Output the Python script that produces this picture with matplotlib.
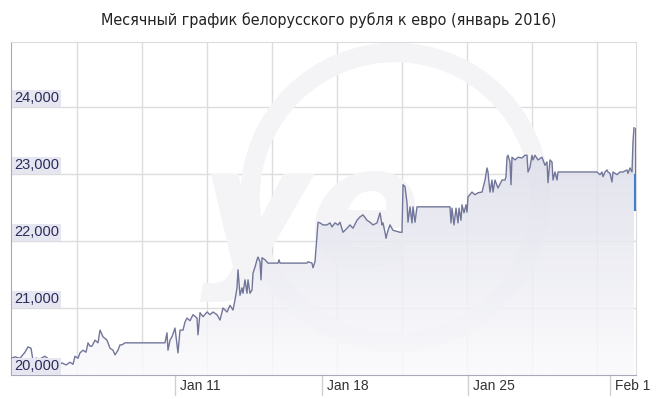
import numpy as np
import matplotlib.pyplot as plt
from matplotlib import font_manager
from matplotlib.colors import LinearSegmentedColormap
from matplotlib.patches import Ellipse

# x position = point index along the chart (0..625), y = BYR per EUR
t_wk1 = [0, 4, 9, 14, 17, 20, 22, 25, 29, 34, 39, 44, 47, 51, 55, 59, 62, 64, 67, 69,
         72, 75, 77, 79, 81, 84, 87, 89, 92, 96, 99, 102, 104, 107, 109, 111, 114]
v_wk1 = [20250, 20270, 20250, 20340, 20420, 20400, 20220, 20250, 20240, 20280,
         20220, 20190, 20150, 20180, 20150, 20190, 20160, 20280, 20250, 20330,
         20370, 20340, 20480, 20430, 20430, 20520, 20480, 20670, 20570, 20520,
         20400, 20370, 20300, 20370, 20450, 20450, 20480]

t_wk2 = [151, 154, 156, 157, 159, 161, 164, 167, 169, 172, 174, 176, 179, 182, 186, 187,
         189, 192, 196, 199, 202, 206, 209, 212, 216, 219, 222, 224, 226, 227, 229, 231,
         232, 234, 236, 237, 239, 241, 242, 244, 246, 247, 249, 250, 251, 254, 257]
v_wk2 = [20480, 20480, 20630, 20370, 20520, 20570, 20700, 20330, 20670, 20670,
         20790, 20850, 20810, 20900, 20850, 20600, 20930, 20870, 20940, 20900,
         20940, 20900, 20820, 21000, 20940, 21040, 20970, 21120, 21300, 21570,
         21190, 21300, 21220, 21420, 21220, 21420, 21220, 21270, 21520, 21610,
         21720, 21760, 21690, 21420, 21750, 21720, 21670]

t_wk3 = [267, 268, 269, 296, 297, 301, 302, 304, 307, 309, 312, 316, 319, 321, 324, 327,
         329, 332, 336, 339, 342, 346, 349, 352, 356, 359, 362, 366, 369, 371, 372, 374,
         375, 377, 379, 382, 389, 391, 392, 394, 396, 397, 399, 401, 402, 404, 406]
v_wk3 = [21670, 21720, 21670, 21670, 21690, 21670, 21600, 21690, 22280, 22270,
         22240, 22240, 22270, 22210, 22270, 22240, 22280, 22130, 22190, 22240,
         22190, 22310, 22360, 22390, 22310, 22280, 22240, 22270, 22420, 22240,
         22270, 22130, 22040, 22160, 22240, 22160, 22130, 22130, 22840, 22810,
         22570, 22280, 22510, 22270, 22510, 22280, 22510]

t_wk4 = [439, 440, 441, 443, 445, 447, 448, 450, 451, 453, 455, 456, 457, 461, 464, 467,
         471, 474, 476, 477, 479, 481, 482, 484, 487, 491, 494, 495, 496, 497, 499, 500,
         501, 504, 507, 511, 514, 516, 517, 519, 521, 522, 524, 527, 531, 534, 536, 537,
         539, 541, 542, 544, 546, 547, 549]
v_wk4 = [22510, 22270, 22490, 22240, 22490, 22270, 22490, 22310, 22540, 22420,
         22540, 22430, 22660, 22730, 22690, 22720, 22730, 22910, 23090, 23030,
         22730, 22910, 22730, 22910, 22790, 22910, 22910, 22960, 23250, 23280,
         23180, 22840, 23250, 23210, 23250, 23240, 23280, 23280, 23030, 23100,
         23280, 23210, 23280, 23210, 23250, 23130, 23180, 22870, 23210, 23180,
         22910, 23030, 22910, 23030, 23030]

t_wk5 = [586, 589, 591, 592, 594, 596, 597, 599, 601, 602, 606, 609, 612, 616, 617, 619,
         621, 622, 623]
v_wk5 = [23030, 22990, 23030, 22960, 23030, 23060, 23030, 23010, 22880, 23030,
         22990, 23030, 23030, 23060, 23010, 23090, 23030, 23480, 23690]

last_low, last_high = 22460, 22990  # highlighted last-bar range

y_ticks = [20000, 21000, 22000, 23000, 24000]
x_tick_pos = [164, 311, 457, 599]
x_tick_lab = ['Jan 11', 'Jan 18', 'Jan 25', 'Feb 1']

t = np.array(t_wk1 + t_wk2 + t_wk3 + t_wk4 + t_wk5, dtype=float)
v = np.array(v_wk1 + v_wk2 + v_wk3 + v_wk4 + v_wk5, dtype=float)

# narrow font for the title if one is around
fonts = font_manager.fontManager.ttflist
names = {f.name for f in fonts}
if 'Liberation Sans Narrow' in names:
    title_font = dict(family=['Liberation Sans Narrow', 'DejaVu Sans'], fontsize=13)
elif any(f.name == 'DejaVu Sans' and 'condensed' in str(f.stretch) for f in fonts):
    title_font = dict(family=['DejaVu Sans'], fontstretch='condensed', fontsize=11.5)
else:
    title_font = dict(family=['Liberation Sans', 'DejaVu Sans'], fontsize=12)
lab_font = ['Liberation Sans', 'DejaVu Sans']

fig = plt.figure(figsize=(6.58, 3.99), dpi=100)
ax = fig.add_axes([11 / 658, 24 / 399, 625 / 658, 333 / 399])
ymin, ymax = 20000, 24970
ax.set_xlim(0, 625)
ax.set_ylim(ymin, ymax)

# gridlines
for x in np.arange(65.7, 620, 65):
    ax.axvline(x, color='#dcdcdc', lw=1, zorder=0)
for y in y_ticks[1:]:
    ax.axhline(y, color='#dcdcdc', lw=1, zorder=0)

# faint watermark
ax.add_patch(Ellipse((384, 22650), 290, 290 * 14.925, fill=False,
                     lw=14, ec='#f4f4f7', zorder=0.5))
ax.text(300, 22300, 'ye', fontsize=120, fontweight='bold', style='italic',
        color='#f4f4f7', ha='center', va='center', zorder=0.5)

# gradient fill under the line
poly = ax.fill_between(t, v, ymin, color='none', lw=0)
cmap = LinearSegmentedColormap.from_list('f', ['#fbfbfd', '#cdcfdf'])
grad = np.linspace(0, 1, 256).reshape(-1, 1)
im = ax.imshow(grad, extent=[0, 625, ymin, ymax], origin='lower', aspect='auto',
               cmap=cmap, alpha=0.85, zorder=1)
im.set_clip_path(poly.get_paths()[0], transform=ax.transData)

ax.plot(t, v, color='#72769a', lw=1.0, zorder=3)
ax.plot([624, 624], [v[-1], last_high], color='#72769a', lw=1.0, zorder=3)
ax.plot([624, 624], [last_low, last_high], color='#3f7fd0', lw=1.5, zorder=4)

# y labels inside the plot
for y in y_ticks:
    ax.text(3, y + 25, f'{y:,}', fontsize=10.5, color='#2c2c5c', ha='left', va='bottom',
            family=lab_font, zorder=5,
            bbox=dict(boxstyle='square,pad=0.12', fc='#e6e6f0', ec='none'))

# x ticks below the axis
for x, lab in zip(x_tick_pos, x_tick_lab):
    ax.plot([x, x], [0, -0.06], transform=ax.get_xaxis_transform(), color='#d0d0d0',
            lw=1, clip_on=False)
    ax.text(x + 5, -0.012, lab, transform=ax.get_xaxis_transform(), fontsize=10,
            color='#333333', ha='left', va='top', family=lab_font)

ax.set_xticks([])
ax.set_yticks([])
ax.spines['left'].set_color('#a8a8b8')
ax.spines['bottom'].set_color('#a8a8b8')
ax.spines['top'].set_color('#dcdcdc')
ax.spines['right'].set_color('#dcdcdc')

fig.text(0.5, 1 - 20 / 399, 'Месячный график белорусского рубля к евро (январь 2016)',
         ha='center', va='center', color='#222222', **title_font)

fig.savefig('out.png', dpi=100)
